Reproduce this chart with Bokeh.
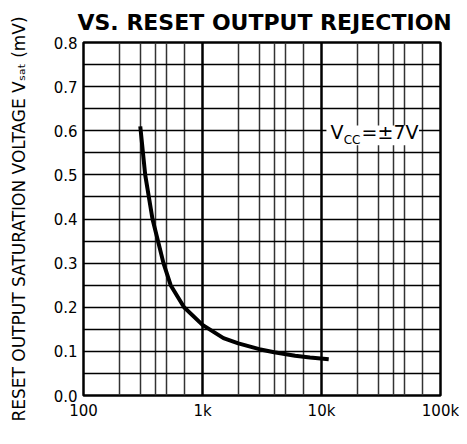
import numpy as np
from bokeh.plotting import figure
from bokeh.models import FixedTicker, Grid, Label, BoxAnnotation, Range1d
from bokeh.embed import file_html
from bokeh.resources import INLINE

# ---- data ----
freq_hz = [300, 330, 380, 470, 540, 700, 1000, 1500, 2000, 3000, 4000, 6000, 8000, 11500]
vsat_mv = [0.61, 0.50, 0.40, 0.30, 0.25, 0.20, 0.16, 0.13, 0.118, 0.105, 0.098, 0.09, 0.086, 0.082]

x_ticks = [100, 1000, 10000, 100000]
x_tick_labels = ["100", "1k", "10k", "100k"]
y_ticks = [0.0, 0.1, 0.2, 0.3, 0.4, 0.5, 0.6, 0.7, 0.8]
y_tick_labels = ["0.0", "0.1", "0.2", "0.3", "0.4", "0.5", "0.6", "0.7", "0.8"]
x_minor_grid = [m * d for d in (100, 1000, 10000) for m in (2, 3, 4, 5, 7)]
x_decade_grid = [1000, 10000]
y_grid = [round(0.05 * i, 2) for i in range(1, 16)]

title_text = "VS. RESET OUTPUT REJECTION"
ylabel_text = "RESET OUTPUT SATURATION VOLTAGE V\u209b\u2090\u209c (mV)"

W, H = 459, 436
p = figure(width=W, height=H, x_axis_type="log",
           x_range=Range1d(100, 100000), y_range=Range1d(0, 0.8),
           output_backend="svg", toolbar_location=None,
           min_border_left=83, min_border_right=19, min_border_top=42, min_border_bottom=41)
p.background_fill_color = "white"
p.border_fill_color = "white"
p.outline_line_color = "black"
p.outline_line_width = 2.5
p.xgrid.visible = False
p.ygrid.visible = False

p.title.text = title_text
p.title.text_font = "DejaVu Sans"
p.title.text_font_style = "bold"
p.title.text_font_size = "22px"
p.title.text_color = "black"
p.title.align = "left"
p.title.offset = -6
p.title.standoff = 15

p.add_layout(Grid(dimension=0, ticker=FixedTicker(ticks=x_minor_grid),
                  grid_line_color="#333333", grid_line_width=1.5))
p.add_layout(Grid(dimension=0, ticker=FixedTicker(ticks=x_decade_grid),
                  grid_line_color="black", grid_line_width=2.5))
p.add_layout(Grid(dimension=1, ticker=FixedTicker(ticks=y_grid),
                  grid_line_color="black", grid_line_width=1.5))

for ax in (p.xaxis[0], p.yaxis[0]):
    ax.axis_line_color = None
    ax.major_tick_line_color = None
    ax.minor_tick_line_color = None
    ax.major_label_text_font = "DejaVu Sans"
    ax.major_label_text_font_size = "15px"
    ax.major_label_text_color = "black"

p.xaxis.ticker = FixedTicker(ticks=x_ticks)
p.xaxis.major_label_overrides = {t: s for t, s in zip(x_ticks, x_tick_labels)}
p.xaxis.major_label_standoff = 0
p.yaxis.ticker = FixedTicker(ticks=y_ticks)
p.yaxis.major_label_overrides = {t: s for t, s in zip(y_ticks, y_tick_labels)}
p.yaxis.major_label_standoff = 0
p.yaxis.axis_label = ylabel_text
p.yaxis.axis_label_text_font = "DejaVu Sans"
p.yaxis.axis_label_text_font_style = "normal"
p.yaxis.axis_label_text_font_size = "17px"
p.yaxis.axis_label_text_color = "black"
p.yaxis.axis_label_standoff = 22

p.line(freq_hz, vsat_mv, line_color="black", line_width=4)

# Vcc annotation (right end of the text anchored)
vx, vy = 65300, 0.573
p.add_layout(BoxAnnotation(left=11000, right=66000, bottom=0.567, top=0.612,
                           fill_color="white", fill_alpha=1.0, line_color=None))
p.add_layout(Label(x=vx, y=vy, text="=±7V", text_align="right", text_font="DejaVu Sans",
                   text_font_size="19px", text_color="black"))
p.add_layout(Label(x=vx, y=vy, x_offset=-58, y_offset=-4, text="CC", text_align="right",
                   text_font="DejaVu Sans", text_font_size="12px", text_color="black"))
p.add_layout(Label(x=vx, y=vy, x_offset=-75, text="V", text_align="right",
                   text_font="DejaVu Sans", text_font_size="19px", text_color="black"))

open("out.html", "w").write(file_html(p, INLINE))
